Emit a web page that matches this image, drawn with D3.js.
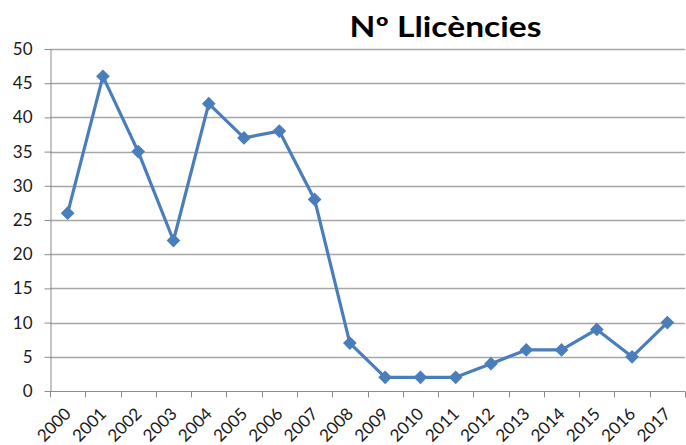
<!DOCTYPE html>
<html>
<head>
<meta charset="utf-8">
<script src="https://cdn.jsdelivr.net/npm/d3@7"></script>
<style>
  html, body { margin: 0; padding: 0; background: #fff; }
  svg { display: block; }
</style>
</head>
<body>
<svg id="chart" width="686" height="445"></svg>
<script>
// Number of licences per year
const years = ["2000","2001","2002","2003","2004","2005","2006","2007","2008",
               "2009","2010","2011","2012","2013","2014","2015","2016","2017"];
const licences = [26, 46, 35, 22, 42, 37, 38, 28, 7, 2, 2, 2, 4, 6, 6, 9, 5, 10];
const yTicks = [0, 5, 10, 15, 20, 25, 30, 35, 40, 45, 50];
const title = "Nº Llicències";

const width = 686, height = 445;
const margin = { top: 49, right: 1, bottom: 54, left: 50 };

const svg = d3.select("#chart");
const font = "Lato, 'Open Sans', 'DejaVu Sans', sans-serif";

const x = d3.scaleBand()
  .domain(years)
  .range([margin.left, width - margin.right])
  .paddingInner(0).paddingOuter(0);

const y = d3.scaleLinear()
  .domain([0, 50])
  .range([height - margin.bottom, margin.top]);

// horizontal gridlines
svg.append("g")
  .selectAll("line")
  .data(yTicks.filter(d => d > 0))
  .join("line")
  .attr("x1", margin.left)
  .attr("x2", width - margin.right)
  .attr("y1", d => Math.round(y(d)) + 0.5)
  .attr("y2", d => Math.round(y(d)) + 0.5)
  .attr("stroke", "#a6a6a6")
  .attr("stroke-width", 1.3);

// y axis
const yAxis = svg.append("g")
  .attr("transform", `translate(${margin.left + 0.5},0)`)
  .call(d3.axisLeft(y).tickValues(yTicks).tickSize(6).tickPadding(12).tickSizeOuter(0));
yAxis.select(".domain").attr("stroke", "#8c8c8c");
yAxis.selectAll(".tick line").attr("stroke", "#8c8c8c");
yAxis.selectAll(".tick text")
  .attr("font-family", font)
  .attr("font-size", 17)
  .attr("fill", "#1a1a1a");

// x axis with ticks between categories
const xAxisG = svg.append("g")
  .attr("transform", `translate(0,${Math.round(y(0)) + 0.5})`);
xAxisG.append("line")
  .attr("x1", margin.left).attr("x2", width - margin.right)
  .attr("stroke", "#8c8c8c");
const boundaries = years.map(d => x(d)).concat([x(years[years.length - 1]) + x.bandwidth()]);
xAxisG.selectAll("line.tk")
  .data(boundaries)
  .join("line")
  .attr("class", "tk")
  .attr("x1", d => Math.round(d) + 0.5)
  .attr("x2", d => Math.round(d) + 0.5)
  .attr("y1", 0).attr("y2", 6)
  .attr("stroke", "#8c8c8c");
xAxisG.selectAll("text")
  .data(years)
  .join("text")
  .attr("transform", d => `translate(${x(d) + x.bandwidth() / 2 - 4},${15}) rotate(-45)`)
  .attr("text-anchor", "end")
  .attr("dy", "0.7em")
  .attr("font-family", font)
  .attr("font-size", 17)
  .attr("fill", "#1a1a1a")
  .text(d => d);

// the series line
const cx = d => x(d) + x.bandwidth() / 2;
const line = d3.line()
  .x((d, i) => cx(years[i]))
  .y(d => y(d));

svg.append("path")
  .datum(licences)
  .attr("d", line)
  .attr("fill", "none")
  .attr("stroke", "#4a7ebb")
  .attr("stroke-width", 3.2)
  .attr("stroke-linejoin", "round");

// diamond markers
const diamond = d3.symbol().type(d3.symbolDiamond2).size(120);
svg.append("g")
  .selectAll("path")
  .data(licences)
  .join("path")
  .attr("d", diamond)
  .attr("transform", (d, i) => `translate(${cx(years[i])},${y(d)})`)
  .attr("fill", "#4a7ebb");

// title
svg.append("text")
  .attr("x", 445.5)
  .attr("y", 37)
  .attr("text-anchor", "middle")
  .attr("font-family", font)
  .attr("font-weight", "bold")
  .attr("font-size", 28)
  .attr("textLength", 192)
  .attr("lengthAdjust", "spacingAndGlyphs")
  .attr("fill", "#000")
  .text(title);
</script>
</body>
</html>
